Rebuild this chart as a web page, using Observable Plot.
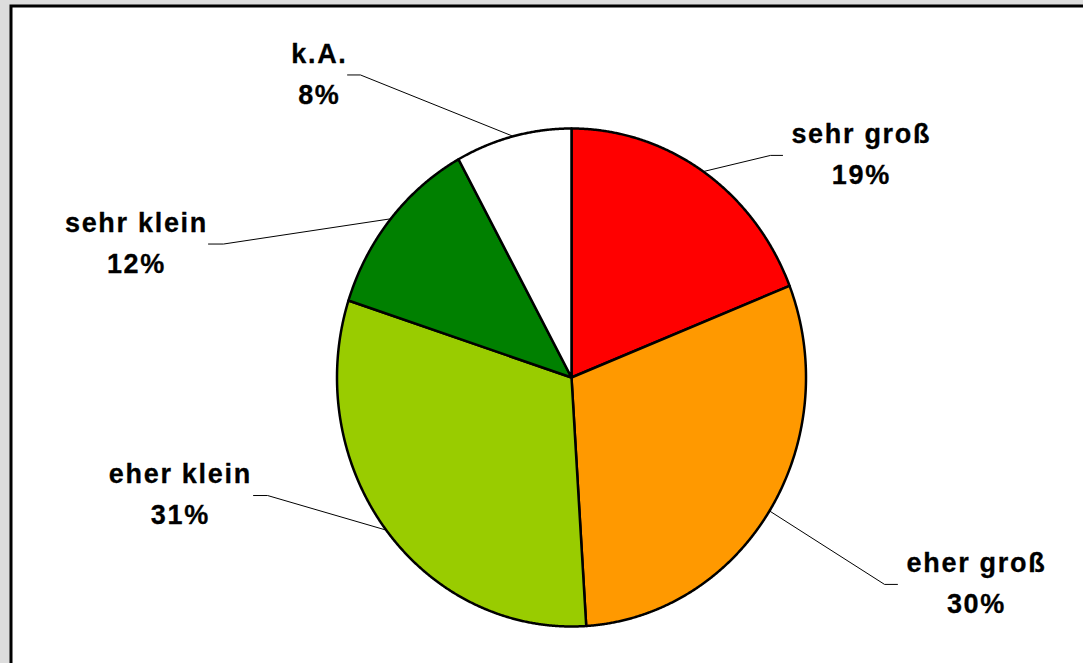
<!DOCTYPE html>
<html><head><meta charset="utf-8">
<script src="https://cdn.jsdelivr.net/npm/d3@7"></script>
<script src="https://cdn.jsdelivr.net/npm/@observablehq/plot@0.6"></script>
<style>
body{margin:0;background:#dddddd;overflow:hidden}
#chart svg text{letter-spacing:1.7px}
</style>
</head><body><div id="chart"></div>
<script>
const categories = ["sehr groß","eher groß","eher klein","sehr klein","k.A."];
const values = [19,30,31,12,8];
const colors = ["#ff0000","#ff9900","#99cc00","#008000","#ffffff"];
const pctLabels = ["19%","30%","31%","12%","8%"];
// label layout in pie units (ellipse radius = 1)
const labelPos = [[1.232,0.892],[1.723,-0.831],[-1.672,-0.474],[-1.859,0.536],[-1.079,1.215]];
// leader line elbow x and end x (pie units)
const leaderX = [[0.849,0.900],[1.335,1.390],[-1.296,-1.356],[-1.484,-1.548],[-0.900,-0.955]];

const total = d3.sum(values);
let acc = 0;
const slicePts = [];
const leaders = [];
categories.forEach((c,i)=>{
  const a0 = acc/total*2*Math.PI; acc += values[i]; const a1 = acc/total*2*Math.PI;
  slicePts.push({cat:c, fill:colors[i], x:0, y:0});
  const n = Math.ceil((a1-a0)/(Math.PI/720));
  for (let k=0;k<=n;k++){const a=a0+(a1-a0)*k/n; slicePts.push({cat:c, fill:colors[i], x:Math.sin(a), y:Math.cos(a)});}
  slicePts.push({cat:c, fill:colors[i], x:0, y:0});
  const am=(a0+a1)/2;
  leaders.push({cat:c,x:Math.sin(am),y:Math.cos(am)},
               {cat:c,x:leaderX[i][0],y:labelPos[i][1]},
               {cat:c,x:leaderX[i][1],y:labelPos[i][1]});
});
const textData = categories.map((c,i)=>({x:labelPos[i][0], y:labelPos[i][1], t:c+"\n"+pctLabels[i]}));

const chart = Plot.plot({
  width:1083, height:663,
  marginLeft:10.5, marginTop:5.5, marginRight:-20, marginBottom:-20,
  x:{domain:[-1,1], range:[336.5,805.5], axis:null},
  y:{domain:[-1,1], range:[626,128], axis:null},
  style:{background:"#dddddd", fontFamily:"'Liberation Sans', Arial, sans-serif"},
  marks:[
    Plot.frame({fill:"white", stroke:"black", strokeWidth:3}),
    Plot.line(slicePts, {x:"x", y:"y", z:"cat", fill:"fill", stroke:"black", strokeWidth:2.5, strokeLinejoin:"round"}),
    Plot.line(leaders, {x:"x", y:"y", z:"cat", stroke:"black", strokeWidth:1}),
    Plot.text(textData, {x:"x", y:"y", text:"t", fontSize:27, fontWeight:"bold", lineHeight:1.52, fill:"black", stroke:"black", strokeWidth:0.3, textAnchor:"middle", lineAnchor:"middle", dx:0.9, dy:-5})
  ]
});
document.getElementById("chart").appendChild(chart);
</script>
</body></html>
